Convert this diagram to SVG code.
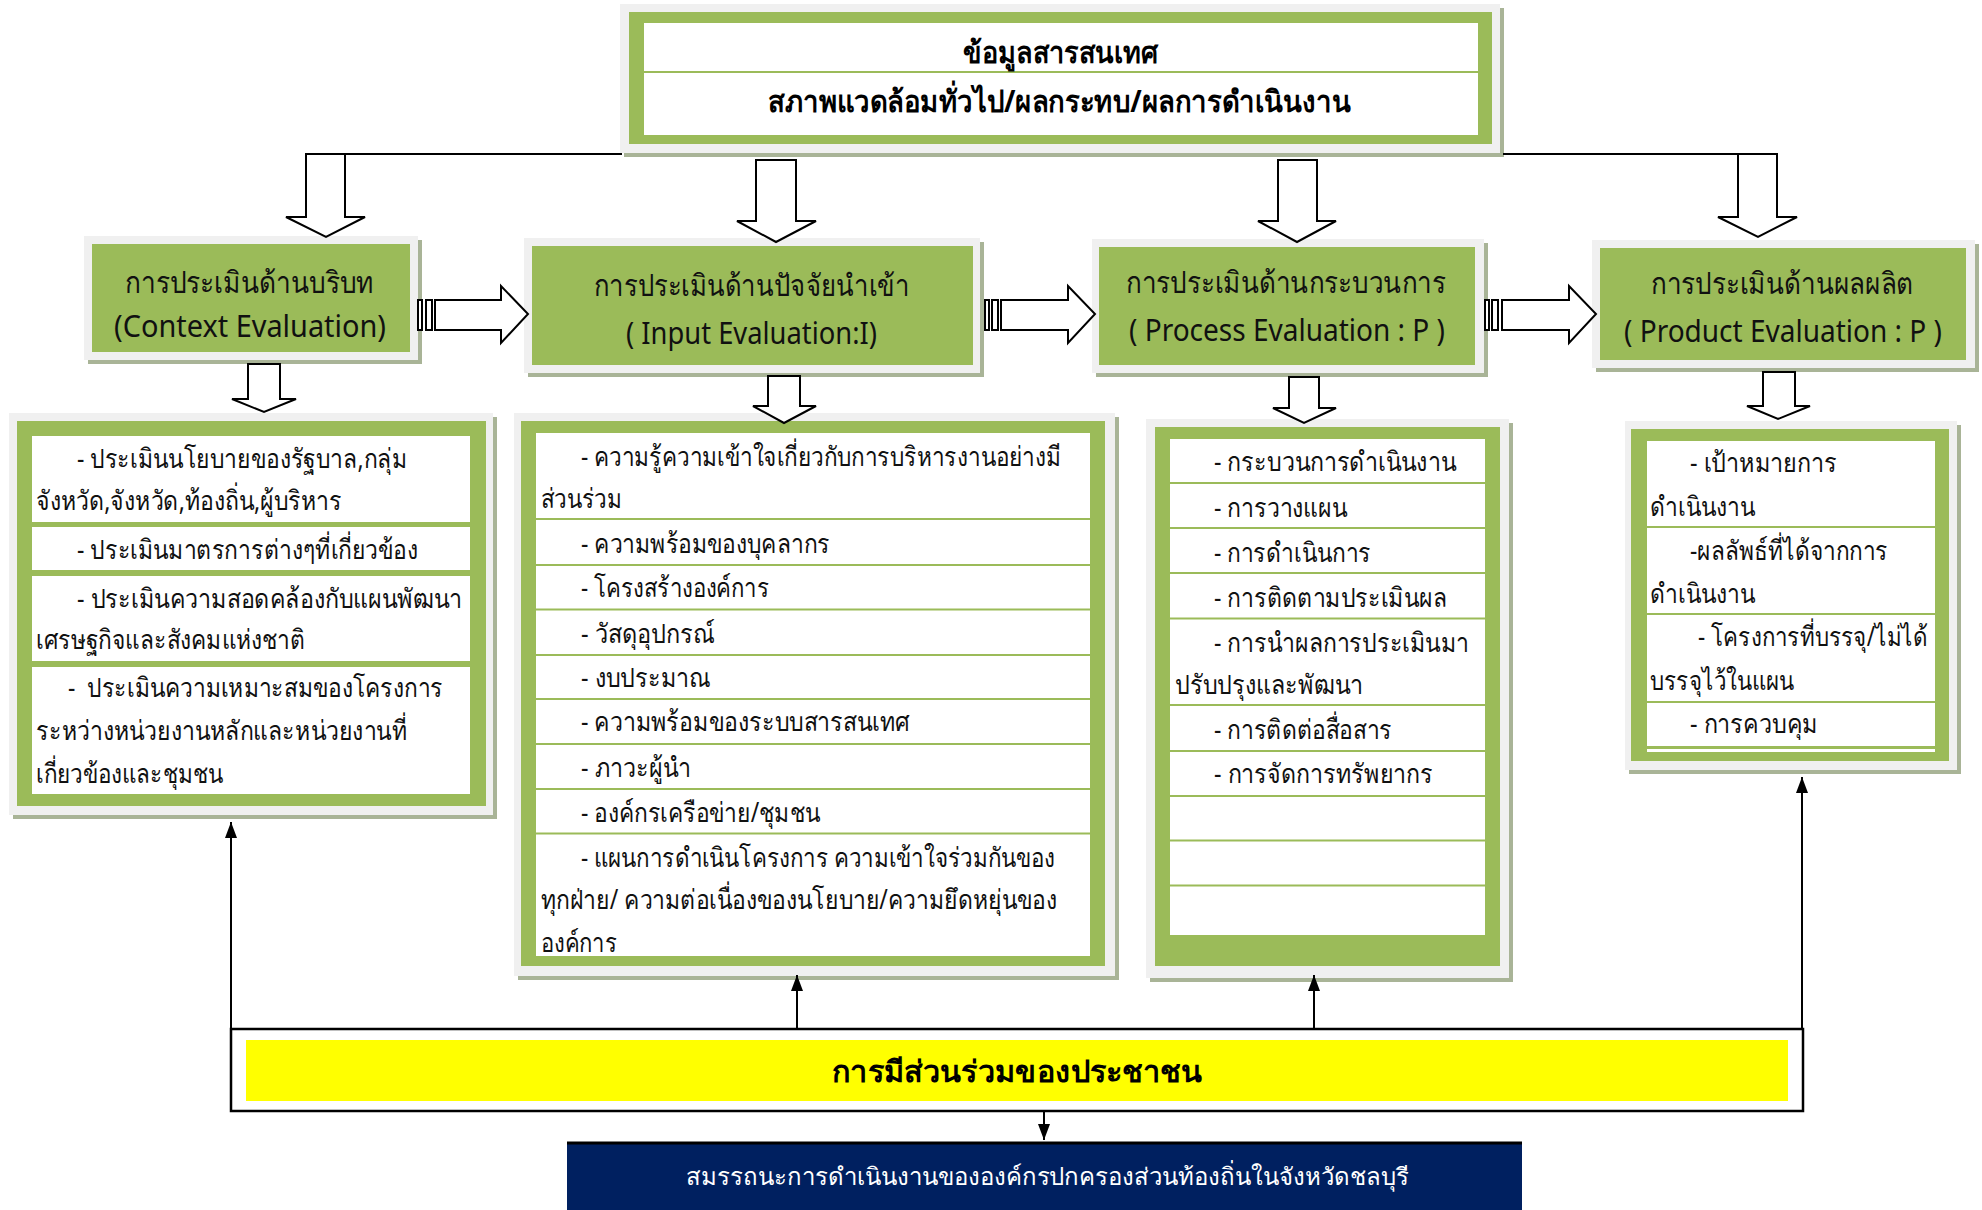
<svg xmlns="http://www.w3.org/2000/svg" width="1982" height="1210" viewBox="0 0 1982 1210">
<defs>
<style>
.frame{fill:#F0F0F0}
.shadow{fill:#A9B497}
.green{fill:#9BBB59}
.white{fill:#FFFFFF}
.sep{stroke:#9BBB59;stroke-width:2;fill:none}
.blk{fill:#FFFFFF;stroke:#000;stroke-width:2;stroke-linejoin:miter}
.line{fill:none;stroke:#000;stroke-width:2}
.t{font-family:"Noto Sans","DejaVu Sans",sans-serif;fill:#111;font-size:27px}
.h{font-family:"Noto Sans","DejaVu Sans",sans-serif;fill:#111;font-size:30px}
.b{font-family:"Noto Sans","DejaVu Sans",sans-serif;fill:#000;font-size:30px;font-weight:bold}
.w{font-family:"Noto Sans","DejaVu Sans",sans-serif;fill:#FFFFFF;font-size:24px}
</style>
<marker id="ah" markerWidth="16" markerHeight="12" refX="16" refY="6" orient="auto" markerUnits="userSpaceOnUse" viewBox="0 0 16 12">
<path d="M0,0 L16,6 L0,12 Z" fill="#000"/>
</marker>
</defs>
<rect width="1982" height="1210" fill="#FFFFFF"/>

<g id="info">
<rect class="shadow" x="624" y="8" width="880" height="149"/>
<rect class="frame" x="620" y="4" width="880" height="149"/>
<rect class="green" x="629" y="12" width="863" height="132"/>
<rect class="white" x="644" y="23" width="834" height="112"/>
<line class="sep" x1="644" y1="72" x2="1478" y2="72"/>
<text class="b" x="963" y="63" textLength="195" lengthAdjust="spacingAndGlyphs">ข้อมูลสารสนเทศ</text>
<text class="b" x="768" y="112" textLength="583" lengthAdjust="spacingAndGlyphs">สภาพแวดล้อมทั่วไป/ผลกระทบ/ผลการดำเนินงาน</text>
</g>

<g id="context">
<rect class="shadow" x="88" y="240" width="334" height="124"/>
<rect class="frame" x="84" y="236" width="334" height="124"/>
<rect class="green" x="92" y="244" width="318" height="108"/>
<text class="h" x="125" y="293" textLength="249" lengthAdjust="spacingAndGlyphs">การประเมินด้านบริบท</text>
<text class="h" x="114" y="337" textLength="272" lengthAdjust="spacingAndGlyphs">(Context  Evaluation)</text>
</g>

<g id="input">
<rect class="shadow" x="528" y="242" width="456" height="135"/>
<rect class="frame" x="524" y="238" width="456" height="135"/>
<rect class="green" x="532" y="246" width="441" height="119"/>
<text class="h" x="594" y="296" textLength="316" lengthAdjust="spacingAndGlyphs">การประเมินด้านปัจจัยนำเข้า</text>
<text class="h" x="626" y="344" textLength="251" lengthAdjust="spacingAndGlyphs">( Input Evaluation:I)</text>
</g>

<g id="process">
<rect class="shadow" x="1096" y="243" width="392" height="134"/>
<rect class="frame" x="1092" y="239" width="392" height="134"/>
<rect class="green" x="1099" y="247" width="376" height="118"/>
<text class="h" x="1126" y="293" textLength="320" lengthAdjust="spacingAndGlyphs">การประเมินด้านกระบวนการ</text>
<text class="h" x="1129" y="341" textLength="316" lengthAdjust="spacingAndGlyphs">( Process Evaluation : P )</text>
</g>

<g id="product">
<rect class="shadow" x="1596" y="244" width="383" height="128"/>
<rect class="frame" x="1592" y="240" width="383" height="128"/>
<rect class="green" x="1600" y="248" width="366" height="112"/>
<text class="h" x="1651" y="294" textLength="262" lengthAdjust="spacingAndGlyphs">การประเมินด้านผลผลิต</text>
<text class="h" x="1624" y="342" textLength="318" lengthAdjust="spacingAndGlyphs">( Product Evaluation : P )</text>
</g>

<g id="context-list">
<rect class="shadow" x="13" y="417" width="484" height="402"/>
<rect class="frame" x="9" y="413" width="484" height="402"/>
<rect class="green" x="17" y="421" width="469" height="385"/>
<rect class="white" x="32" y="436" width="438" height="86"/>
<rect class="white" x="32" y="527" width="438" height="43"/>
<rect class="white" x="32" y="576" width="438" height="85"/>
<rect class="white" x="32" y="667" width="438" height="127"/>
<text class="t" x="77" y="468" textLength="330" lengthAdjust="spacingAndGlyphs">- ประเมินนโยบายของรัฐบาล,กลุ่ม</text>
<text class="t" x="36" y="510" textLength="306" lengthAdjust="spacingAndGlyphs">จังหวัด,จังหวัด,ท้องถิ่น,ผู้บริหาร</text>
<text class="t" x="77" y="559" textLength="341" lengthAdjust="spacingAndGlyphs">- ประเมินมาตรการต่างๆที่เกี่ยวข้อง</text>
<text class="t" x="77" y="608" textLength="385" lengthAdjust="spacingAndGlyphs">- ประเมินความสอดคล้องกับแผนพัฒนา</text>
<text class="t" x="36" y="649" textLength="269" lengthAdjust="spacingAndGlyphs">เศรษฐกิจและสังคมแห่งชาติ</text>
<text class="t" x="68" y="697" textLength="375" lengthAdjust="spacingAndGlyphs" xml:space="preserve">-  ประเมินความเหมาะสมของโครงการ</text>
<text class="t" x="36" y="740" textLength="371" lengthAdjust="spacingAndGlyphs">ระหว่างหน่วยงานหลักและหน่วยงานที่</text>
<text class="t" x="36" y="783" textLength="187" lengthAdjust="spacingAndGlyphs">เกี่ยวข้องและชุมชน</text>
</g>

<g id="input-list">
<rect class="shadow" x="518" y="417" width="601" height="563"/>
<rect class="frame" x="514" y="413" width="601" height="563"/>
<rect class="green" x="521" y="421" width="584" height="545"/>
<rect class="white" x="536" y="433" width="554" height="523"/>
<path class="sep" d="M536,519H1090M536,565H1090M536,609.5H1090M536,655H1090M536,699H1090M536,744H1090M536,789H1090M536,833.5H1090"/>
<text class="t" x="581" y="466" textLength="480" lengthAdjust="spacingAndGlyphs">- ความรู้ความเข้าใจเกี่ยวกับการบริหารงานอย่างมี</text>
<text class="t" x="541" y="508" textLength="81" lengthAdjust="spacingAndGlyphs">ส่วนร่วม</text>
<text class="t" x="581" y="553" textLength="249" lengthAdjust="spacingAndGlyphs">- ความพร้อมของบุคลากร</text>
<text class="t" x="581" y="597" textLength="188" lengthAdjust="spacingAndGlyphs">- โครงสร้างองค์การ</text>
<text class="t" x="581" y="643" textLength="134" lengthAdjust="spacingAndGlyphs">- วัสดุอุปกรณ์</text>
<text class="t" x="581" y="687" textLength="130" lengthAdjust="spacingAndGlyphs">- งบประมาณ</text>
<text class="t" x="581" y="731" textLength="329" lengthAdjust="spacingAndGlyphs">- ความพร้อมของระบบสารสนเทศ</text>
<text class="t" x="581" y="777" textLength="110" lengthAdjust="spacingAndGlyphs">- ภาวะผู้นำ</text>
<text class="t" x="581" y="822" textLength="239" lengthAdjust="spacingAndGlyphs">- องค์กรเครือข่าย/ชุมชน</text>
<text class="t" x="581" y="867" textLength="474" lengthAdjust="spacingAndGlyphs">- แผนการดำเนินโครงการ ความเข้าใจร่วมกันของ</text>
<text class="t" x="541" y="909" textLength="516" lengthAdjust="spacingAndGlyphs">ทุกฝ่าย/ ความต่อเนื่องของนโยบาย/ความยึดหยุ่นของ</text>
<text class="t" x="541" y="952" textLength="76" lengthAdjust="spacingAndGlyphs">องค์การ</text>
</g>

<g id="process-list">
<rect class="shadow" x="1150" y="423" width="363" height="559"/>
<rect class="frame" x="1146" y="419" width="363" height="559"/>
<rect class="green" x="1155" y="427" width="345" height="539"/>
<rect class="white" x="1170" y="439" width="315" height="496"/>
<path class="sep" d="M1170,483H1485M1170,528H1485M1170,573H1485M1170,618.5H1485M1170,705H1485M1170,751H1485M1170,796H1485M1170,840.5H1485M1170,885.5H1485"/>
<text class="t" x="1214" y="471" textLength="242" lengthAdjust="spacingAndGlyphs">- กระบวนการดำเนินงาน</text>
<text class="t" x="1214" y="517" textLength="133" lengthAdjust="spacingAndGlyphs">- การวางแผน</text>
<text class="t" x="1214" y="562" textLength="157" lengthAdjust="spacingAndGlyphs">- การดำเนินการ</text>
<text class="t" x="1214" y="607" textLength="233" lengthAdjust="spacingAndGlyphs">- การติดตามประเมินผล</text>
<text class="t" x="1214" y="652" textLength="255" lengthAdjust="spacingAndGlyphs">- การนำผลการประเมินมา</text>
<text class="t" x="1175" y="694" textLength="188" lengthAdjust="spacingAndGlyphs">ปรับปรุงและพัฒนา</text>
<text class="t" x="1214" y="739" textLength="178" lengthAdjust="spacingAndGlyphs">- การติดต่อสื่อสาร</text>
<text class="t" x="1214" y="783" textLength="219" lengthAdjust="spacingAndGlyphs">- การจัดการทรัพยากร</text>
</g>

<g id="product-list">
<rect class="shadow" x="1629" y="425" width="332" height="349"/>
<rect class="frame" x="1625" y="421" width="332" height="349"/>
<rect class="green" x="1631" y="429" width="318" height="332"/>
<rect class="white" x="1647" y="441" width="288" height="311"/>
<path class="sep" d="M1647,527H1935M1647,614H1935M1647,702H1935"/>
<rect class="green" x="1647" y="746" width="288" height="3"/>
<text class="t" x="1690" y="472" textLength="147" lengthAdjust="spacingAndGlyphs">- เป้าหมายการ</text>
<text class="t" x="1650" y="516" textLength="105" lengthAdjust="spacingAndGlyphs">ดำเนินงาน</text>
<text class="t" x="1690" y="560" textLength="198" lengthAdjust="spacingAndGlyphs">-ผลลัพธ์ที่ได้จากการ</text>
<text class="t" x="1650" y="603" textLength="105" lengthAdjust="spacingAndGlyphs">ดำเนินงาน</text>
<text class="t" x="1698" y="646" textLength="230" lengthAdjust="spacingAndGlyphs">- โครงการที่บรรจุ/ไม่ได้</text>
<text class="t" x="1650" y="690" textLength="144" lengthAdjust="spacingAndGlyphs">บรรจุไว้ในแผน</text>
<text class="t" x="1690" y="733" textLength="128" lengthAdjust="spacingAndGlyphs">- การควบคุม</text>
</g>

<g id="participation">
<rect x="231" y="1029" width="1572" height="82" fill="#FFFFFF" stroke="#000" stroke-width="2.5"/>
<rect x="246" y="1040" width="1542" height="61" fill="#FFFF00"/>
<text class="b" x="832" y="1082" textLength="370" lengthAdjust="spacingAndGlyphs">การมีส่วนร่วมของประชาชน</text>
</g>

<g id="competency">
<rect x="567" y="1142" width="955" height="80" fill="#002060"/>
<line x1="567" y1="1143" x2="1522" y2="1143" stroke="#000" stroke-width="3"/>
<text class="w" x="686" y="1185" textLength="723" lengthAdjust="spacingAndGlyphs">สมรรถนะการดำเนินงานขององค์กรปกครองส่วนท้องถิ่นในจังหวัดชลบุรี</text>
</g>

<g id="connectors">
<line class="line" x1="306" y1="154" x2="622" y2="154"/>
<line class="line" x1="1503" y1="154" x2="1777" y2="154"/>
<polygon class="blk" points="306,154 345,154 345,217 365,217 326,237 286,217 306,217"/>
<polygon class="blk" points="756,160 796,160 796,221 816,221 776,242 737,221 756,221"/>
<polygon class="blk" points="1278,160 1317,160 1317,221 1336,221 1297,242 1258,221 1278,221"/>
<polygon class="blk" points="1738,154 1777,154 1777,217 1797,217 1758,237 1718,217 1738,217"/>
<g id="striped1">
<rect class="blk" x="418" y="300" width="4" height="30"/>
<rect class="blk" x="426" y="300" width="6" height="30"/>
<polygon class="blk" points="435,300 501,300 501,286 528,314 501,343 501,330 435,330"/>
</g>
<g id="striped2">
<rect class="blk" x="985" y="300" width="4" height="30"/>
<rect class="blk" x="992" y="300" width="6" height="30"/>
<polygon class="blk" points="1001,300 1068,300 1068,286 1095,314 1068,343 1068,330 1001,330"/>
</g>
<g id="striped3">
<rect class="blk" x="1485" y="300" width="4" height="30"/>
<rect class="blk" x="1492" y="300" width="6" height="30"/>
<polygon class="blk" points="1502,300 1569,300 1569,286 1596,314 1569,343 1569,330 1502,330"/>
</g>
<polygon class="blk" points="248,364 280,364 280,399 296,399 264,412 232,399 248,399"/>
<polygon class="blk" points="768,376 800,376 800,406 816,406 784,423 753,406 768,406"/>
<polygon class="blk" points="1289,377 1319,377 1319,408 1336,408 1304,423 1273,408 1289,408"/>
<polygon class="blk" points="1763,372 1795,372 1795,406 1810,406 1778,419 1747,406 1763,406"/>
<line class="line" x1="231" y1="1029" x2="231" y2="822" marker-end="url(#ah)"/>
<line class="line" x1="797" y1="1029" x2="797" y2="975" marker-end="url(#ah)"/>
<line class="line" x1="1314" y1="1029" x2="1314" y2="975" marker-end="url(#ah)"/>
<line class="line" x1="1802" y1="1029" x2="1802" y2="777" marker-end="url(#ah)"/>
<line class="line" x1="1044" y1="1111" x2="1044" y2="1140" marker-end="url(#ah)"/>
</g>
</svg>
